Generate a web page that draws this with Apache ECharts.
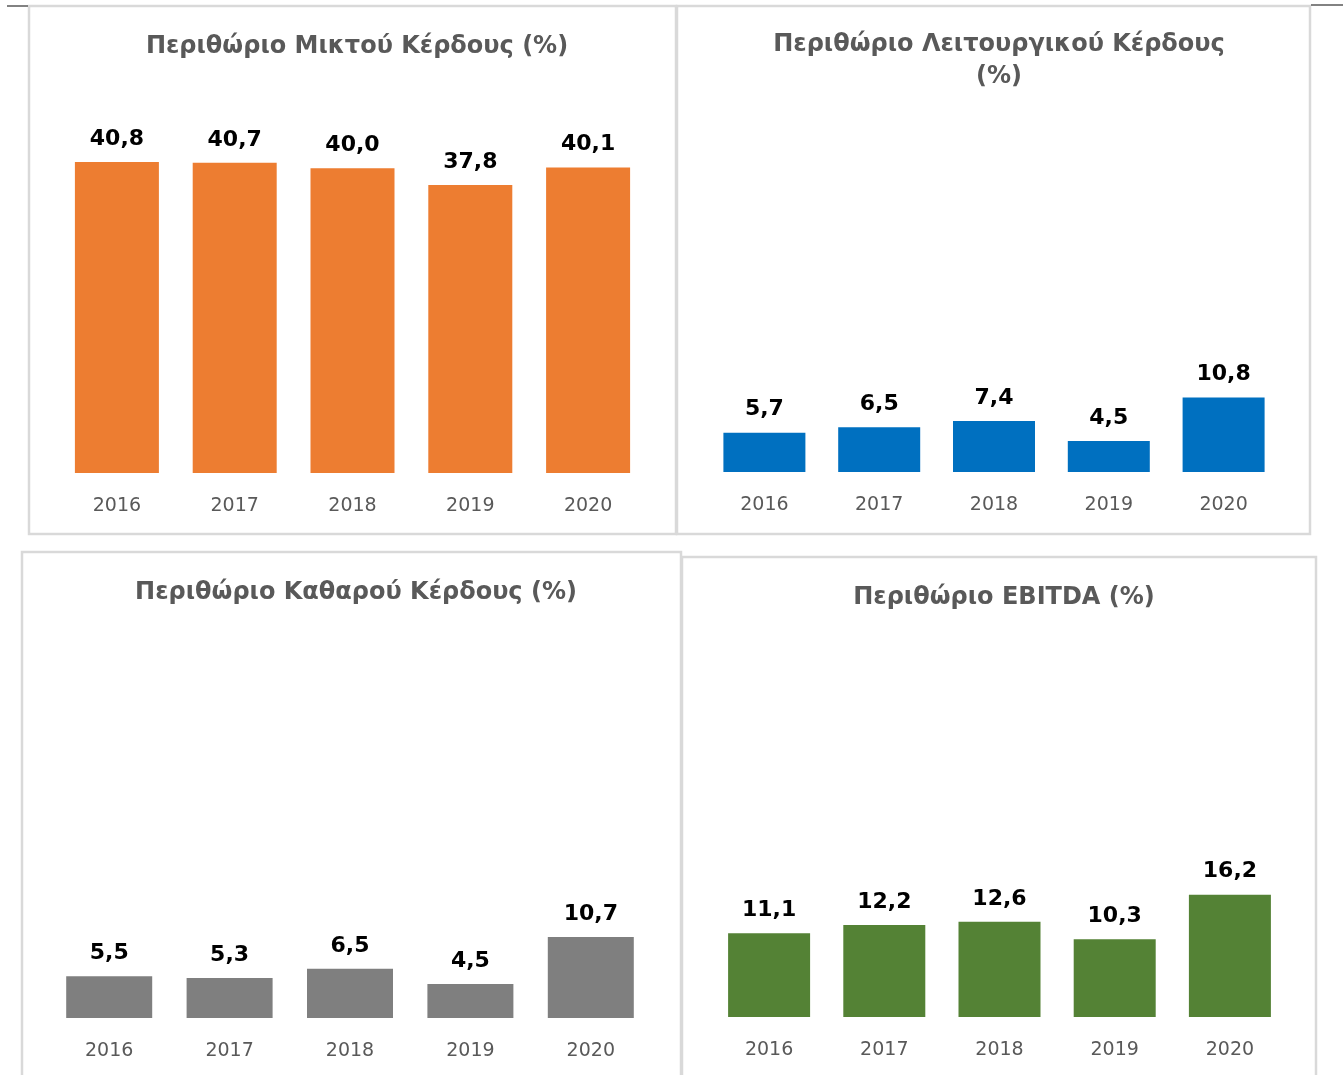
<!DOCTYPE html>
<html><head><meta charset="utf-8">
<script src="https://cdn.jsdelivr.net/npm/echarts@6/dist/echarts.min.js"></script>
<style>html,body{margin:0;padding:0;background:#fff;}#c{width:1343px;height:1075px;}</style>
</head><body><div id="c"></div>
<script>
const years = ['2016','2017','2018','2019','2020'];
const grossMargin = [40.8, 40.7, 40.0, 37.8, 40.1];
const operatingMargin = [5.7, 6.5, 7.4, 4.5, 10.8];
const netMargin = [5.5, 5.3, 6.5, 4.5, 10.7];
const ebitdaMargin = [11.1, 12.2, 12.6, 10.3, 16.2];
const titles = ['Περιθώριο Μικτού Κέρδους (%)', 'Περιθώριο Λειτουργικού Κέρδους\n(%)', 'Περιθώριο Καθαρού Κέρδους (%)', 'Περιθώριο EBITDA (%)'];

const chart = echarts.init(document.getElementById('c'));
const panels = [
  {data: grossMargin, color:'#ED7D31', grid:{left:58, width:589, top:92, height:381}, barWidth:84, tx:352, ty:26},
  {data: operatingMargin, color:'#0070C0', grid:{left:707, width:574, top:127, height:345}, barWidth:82, tx:994, ty:24},
  {data: netMargin, color:'#7F7F7F', grid:{left:49, width:602, top:639.5, height:378.5}, barWidth:86, tx:351, ty:572},
  {data: ebitdaMargin, color:'#548235', grid:{left:711.5, width:576, top:639.5, height:377.5}, barWidth:82, tx:999, ty:577}
];
const border = '#D9D9D9';
const option = {
  animation:false,
  title: panels.map((p,i)=>({text: titles[i], left: p.tx, top: p.ty, textAlign:'center',
    textStyle:{fontFamily:'DejaVu Sans', fontWeight:'bold', fontSize:24, color:'#595959', lineHeight:32}})),
  grid: panels.map(p=>p.grid),
  xAxis: panels.map((p,i)=>({type:'category', gridIndex:i, data: years,
    axisLine:{show:false}, axisTick:{show:false},
    axisLabel:{fontFamily:'DejaVu Sans', fontSize:19, color:'#595959', margin:24}})),
  yAxis: panels.map((p,i)=>({type:'value', gridIndex:i, min:0, max:50, show:false, splitLine:{show:false}})),
  series: panels.map((p,i)=>({type:'bar', xAxisIndex:i, yAxisIndex:i, data:p.data, barWidth:p.barWidth,
    itemStyle:{color:p.color},
    label:{show:true, position:'top', distance:12, fontFamily:'DejaVu Sans', fontWeight:'bold', fontSize:22, color:'#000',
      formatter: d => d.value.toFixed(1).replace('.', ',')}})),
  graphic: [
    {type:'rect', shape:{x:29, y:6, width:647, height:528}, style:{fill:'none', stroke:border, lineWidth:2.5}, z:-1},
    {type:'rect', shape:{x:677, y:6, width:633, height:528}, style:{fill:'none', stroke:border, lineWidth:2.5}, z:-1},
    {type:'rect', shape:{x:22, y:552, width:659, height:540}, style:{fill:'none', stroke:border, lineWidth:2.5}, z:-1},
    {type:'rect', shape:{x:682, y:557, width:634, height:540}, style:{fill:'none', stroke:border, lineWidth:2.5}, z:-1},
    {type:'line', shape:{x1:7, y1:6, x2:28, y2:6}, style:{stroke:'#595959', lineWidth:1.5}},
    {type:'line', shape:{x1:1311, y1:5, x2:1343, y2:5}, style:{stroke:'#595959', lineWidth:1.5}}
  ]
};
chart.setOption(option);
</script></body></html>
